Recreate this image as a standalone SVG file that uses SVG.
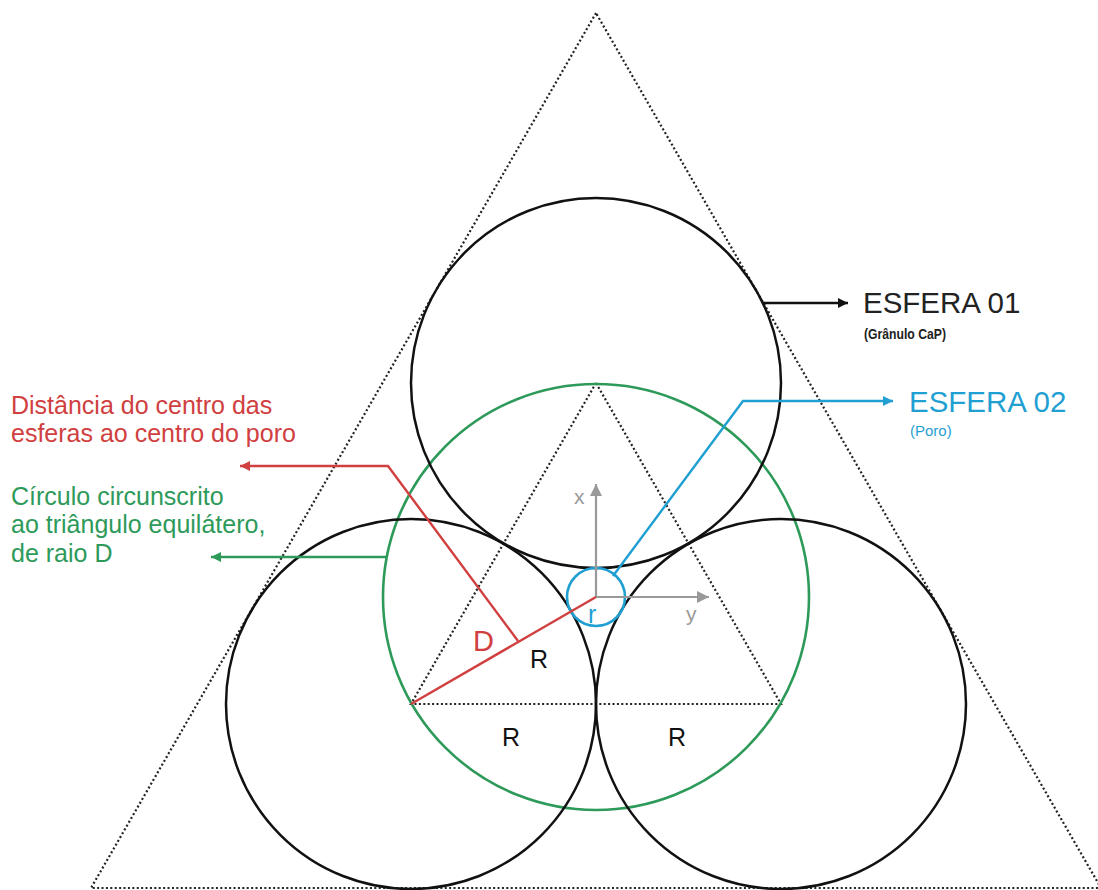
<svg xmlns="http://www.w3.org/2000/svg" width="1098" height="890" viewBox="0 0 1098 890">
<style>
.dot{fill:none;stroke:#222;stroke-width:2.2;stroke-dasharray:2 2.4}
.circ{fill:none;stroke:#111;stroke-width:2.5}
.t{font-family:"Liberation Sans",Arial,sans-serif}
.red{fill:#d04040}
.grn{fill:#2e9a5a}
.blu{fill:#1f9fd2}
</style>
<defs>
<marker id="ab" viewBox="0 0 10 10" refX="10" refY="5" markerWidth="12" markerHeight="10" markerUnits="userSpaceOnUse" orient="auto"><path d="M0,0 L10,5 L0,10 z" fill="#111"/></marker>
<marker id="ar" viewBox="0 0 10 10" refX="10" refY="5" markerWidth="12" markerHeight="10" markerUnits="userSpaceOnUse" orient="auto"><path d="M0,0 L10,5 L0,10 z" fill="#d04040"/></marker>
<marker id="ag" viewBox="0 0 10 10" refX="10" refY="5" markerWidth="12" markerHeight="10" markerUnits="userSpaceOnUse" orient="auto"><path d="M0,0 L10,5 L0,10 z" fill="#2e9a5a"/></marker>
<marker id="au" viewBox="0 0 10 10" refX="10" refY="5" markerWidth="12" markerHeight="10" markerUnits="userSpaceOnUse" orient="auto"><path d="M0,0 L10,5 L0,10 z" fill="#1f9fd2"/></marker>
<marker id="ax" viewBox="0 0 10 10" refX="10" refY="5" markerWidth="14" markerHeight="12" markerUnits="userSpaceOnUse" orient="auto"><path d="M0,0 L10,5 L0,10 z" fill="#999"/></marker>
</defs>
<rect width="1098" height="890" fill="#fff"/>
<g id="outer-triangle">
<path class="dot" d="M596,13 L91,888 L1101,888 Z"/>
</g>
<g id="inner-triangle">
<path class="dot" d="M596,383 L411,704 L781,704 Z"/>
</g>
<g id="circumscribed-circle">
<circle cx="596" cy="597" r="213" fill="none" stroke="#2e9a5a" stroke-width="2.6"/>
</g>
<g id="esfera-01-top">
<circle class="circ" cx="596" cy="383" r="185"/>
</g>
<g id="esfera-bottom-left">
<circle class="circ" cx="411" cy="704" r="185"/>
</g>
<g id="esfera-bottom-right">
<circle class="circ" cx="781" cy="704" r="185"/>
</g>
<g id="esfera-02-pore">
<circle cx="596" cy="597" r="29" fill="none" stroke="#1f9fd2" stroke-width="2.6"/>
</g>
<g id="axes" stroke="#999" stroke-width="2.2" fill="none">
<line x1="596" y1="597" x2="596" y2="484" marker-end="url(#ax)"/>
<line x1="596" y1="597" x2="709" y2="597" marker-end="url(#ax)"/>
</g>
<g id="connectors" fill="none" stroke-width="2.4">
<line x1="411" y1="704" x2="596" y2="597" stroke="#d04040"/>
<polyline points="518,641 388,466 240,466" stroke="#d04040" marker-end="url(#ar)"/>
<line x1="386" y1="557" x2="211" y2="557" stroke="#2e9a5a" marker-end="url(#ag)"/>
<polyline points="613,576 743,401 893,401" stroke="#1f9fd2" marker-end="url(#au)"/>
<line x1="763" y1="303" x2="848" y2="303" stroke="#111" marker-end="url(#ab)"/>
</g>
<g id="labels" class="t">
<text x="863" y="313" font-size="29.5" fill="#222">ESFERA 01</text>
<text x="864" y="339" font-size="15" font-weight="bold" fill="#222" textLength="82" lengthAdjust="spacingAndGlyphs">(Grânulo CaP)</text>
<text x="909" y="412" font-size="29.5" class="blu">ESFERA 02</text>
<text x="910" y="436" font-size="15" class="blu">(Poro)</text>
<text x="11" y="414" font-size="25" class="red">Distância do centro das</text>
<text x="11" y="442" font-size="25" class="red">esferas ao centro do poro</text>
<text x="11" y="505" font-size="25" class="grn">Círculo circunscrito</text>
<text x="11" y="533" font-size="25" class="grn">ao triângulo equilátero,</text>
<text x="11" y="562" font-size="25" class="grn">de raio D</text>
<text x="473" y="651" font-size="29" class="red">D</text>
<text x="530" y="668" font-size="25" fill="#111">R</text>
<text x="502" y="746" font-size="25" fill="#111">R</text>
<text x="668" y="746" font-size="25" fill="#111">R</text>
<text x="588" y="623" font-size="25" class="blu">r</text>
<text x="574" y="504" font-size="21" fill="#999">x</text>
<text x="686" y="621" font-size="21" fill="#999">y</text>
</g>
</svg>
